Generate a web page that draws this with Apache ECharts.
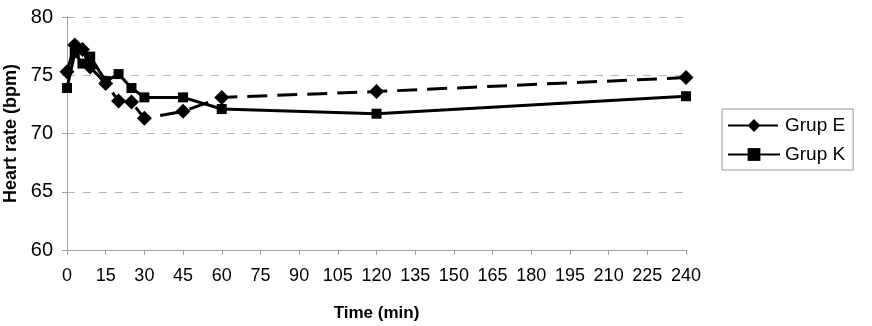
<!DOCTYPE html>
<html>
<head>
<meta charset="utf-8">
<script src="https://cdn.jsdelivr.net/npm/echarts@6/dist/echarts.min.js"></script>
<style>
  html, body { margin: 0; padding: 0; background: #fff; }
  #chart { width: 872px; height: 326px; }
</style>
</head>
<body>
<div id="chart"></div>
<script>
// times in minutes
const timesE = [0, 3, 6, 9, 15, 20, 25, 30, 45, 60, 120, 240];
const valuesE = [75.3, 77.6, 77.2, 75.7, 74.3, 72.8, 72.7, 71.3, 71.9, 73.1, 73.6, 74.8];
const timesK = [0, 3, 6, 9, 15, 20, 25, 30, 45, 60, 120, 240];
const valuesK = [73.9, 76.9, 76.0, 76.6, 74.5, 75.1, 73.9, 73.1, 73.1, 72.1, 71.7, 73.2];

const seriesNames = ['Grup E', 'Grup K'];

const font = 'Liberation Sans, Arial, sans-serif';

const chart = echarts.init(document.getElementById('chart'));

chart.setOption({
  backgroundColor: '#fff',
  animation: false,
  grid: {
    left: 67,
    right: 186,
    top: 17,
    bottom: 76,
    outerBoundsMode: 'none'
  },
  legend: {
    orient: 'vertical',
    left: 722,
    top: 109,
    itemWidth: 52,
    itemHeight: 16,
    itemGap: 10,
    padding: [7, 8, 6, 5],
    borderColor: '#999',
    borderWidth: 1,
    textStyle: { color: '#000', fontSize: 19, fontFamily: font },
    data: seriesNames
  },
  xAxis: {
    type: 'value',
    min: 0,
    max: 240,
    interval: 15,
    name: 'Time (min)',
    nameLocation: 'middle',
    nameGap: 55,
    nameTextStyle: { color: '#000', fontSize: 17, fontWeight: 'bold', fontFamily: font },
    axisLine: { show: true, lineStyle: { color: '#a0a0a0' } },
    axisTick: { show: true, length: 5, lineStyle: { color: '#a0a0a0' } },
    axisLabel: { color: '#000', fontSize: 18, fontFamily: font, margin: 17 },
    splitLine: { show: false }
  },
  yAxis: {
    type: 'value',
    min: 60,
    max: 80,
    interval: 5,
    name: 'Heart rate (bpm)',
    nameLocation: 'middle',
    nameGap: 44,
    nameTextStyle: { color: '#000', fontSize: 18, fontWeight: 'bold', fontFamily: font },
    axisLine: { show: true, lineStyle: { color: '#a0a0a0' } },
    axisTick: { show: true, length: 5, lineStyle: { color: '#a0a0a0' } },
    axisLabel: { color: '#000', fontSize: 20, fontFamily: font, margin: 14 },
    splitLine: { show: true, lineStyle: { color: '#b4b4b4', type: [8, 8], width: 1 } }
  },
  series: [
    {
      name: seriesNames[0],
      type: 'line',
      data: timesE.map((t, i) => [t, valuesE[i]]),
      symbol: 'diamond',
      symbolSize: 15,
      itemStyle: { color: '#000' },
      lineStyle: { color: '#000', width: 3, type: [20, 10] },
      z: 3
    },
    {
      name: seriesNames[1],
      type: 'line',
      data: timesK.map((t, i) => [t, valuesK[i]]),
      symbol: 'rect',
      symbolSize: 10,
      itemStyle: { color: '#000' },
      lineStyle: { color: '#000', width: 3 },
      z: 2
    }
  ]
});
</script>
</body>
</html>
